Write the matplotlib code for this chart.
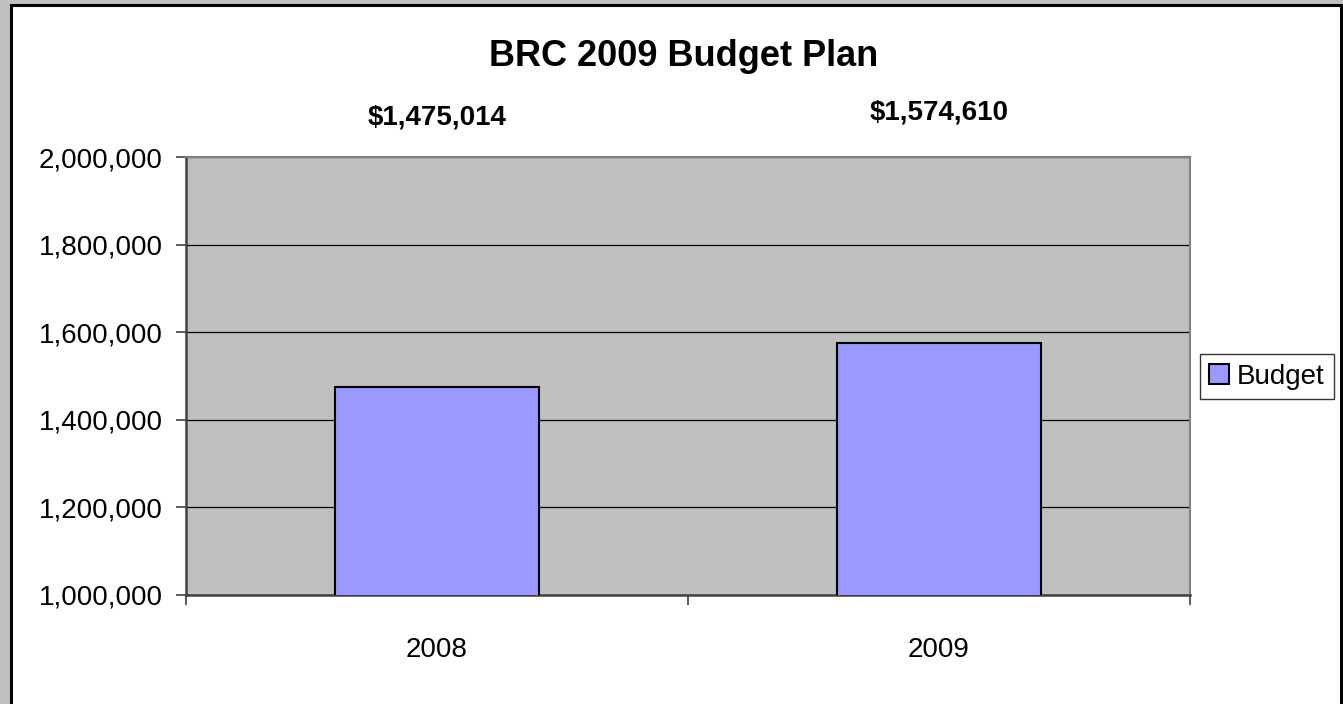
import matplotlib
matplotlib.use('Agg')
import matplotlib.pyplot as plt
import matplotlib.transforms as mtransforms
from matplotlib.patches import Rectangle
from matplotlib.ticker import FuncFormatter

plt.rcParams['font.family'] = ['Liberation Sans', 'DejaVu Sans']

# data
years = ['2008', '2009']
budget = [1475014, 1574610]
bar_labels = ['$1,475,014', '$1,574,610']
label_heights = [1.091, 1.102]   # axes fraction, labels sit above the plot area
yticks = [1000000, 1200000, 1400000, 1600000, 1800000, 2000000]

W, H = 1343, 704
fig = plt.figure(figsize=(W / 100, H / 100), dpi=100, facecolor='#C0C0C0')

# white chart panel with black frame
panel = Rectangle((11 / W, -0.02), (1341 - 11) / W, 1 - 5 / H + 0.02,
                  transform=fig.transFigure, facecolor='white',
                  edgecolor='black', linewidth=2.2, zorder=-5)
fig.patches.append(panel)

ax = fig.add_axes([186 / W, 1 - 595 / H, (1190 - 186) / W, (595 - 157) / H])
ax.set_zorder(2)
ax.set_facecolor('#C0C0C0')

x = list(range(len(years)))
ax.bar(x, budget, width=0.406, color='#9999FF', edgecolor='black',
       linewidth=1.5, zorder=3, label='Budget')

ax.set_xlim(-0.5, 1.5)
ax.set_ylim(1000000, 2000000)
ax.set_yticks(yticks)
ax.yaxis.set_major_formatter(FuncFormatter(lambda v, p: '{:,.0f}'.format(v)))
ax.grid(axis='y', color='black', linewidth=0.9, zorder=1)
ax.set_axisbelow(True)

ax.set_xticks(x)
ax.set_xticklabels(years)
ax.set_xticks([-0.5, 0.5, 1.5], minor=True)
ax.tick_params(axis='x', which='major', length=0, pad=30, labelsize=20)
ax.tick_params(axis='x', which='minor', length=7, width=1.2, color='#404040',
               direction='out')
ax.tick_params(axis='y', length=7, width=1.2, color='#404040', pad=10,
               labelsize=20, direction='out')

for side in ['top', 'right']:
    ax.spines[side].set_color('#808080')
    ax.spines[side].set_linewidth(1.5)
for side in ['left', 'bottom']:
    ax.spines[side].set_color('#404040')
    ax.spines[side].set_linewidth(1.8)

trans = mtransforms.blended_transform_factory(ax.transData, ax.transAxes)
for xi, lab, hy in zip(x, bar_labels, label_heights):
    ax.text(xi, hy, lab, transform=trans, ha='center', va='center',
            fontsize=20, fontweight='bold', clip_on=False)

fig.text(684 / W, 1 - 56 / H, 'BRC 2009 Budget Plan', ha='center',
         va='center', fontsize=26, fontweight='bold')

leg = fig.legend(loc='center', bbox_to_anchor=(1267 / W, 1 - 376.5 / H),
                 fontsize=20, frameon=True, fancybox=False, handlelength=0.7,
                 handleheight=0.7, handletextpad=0.3, borderpad=0.35,
                 borderaxespad=0)
leg.get_frame().set_edgecolor('black')
leg.get_frame().set_linewidth(1.0)

fig.savefig('out.png', dpi=100, facecolor=fig.get_facecolor())
